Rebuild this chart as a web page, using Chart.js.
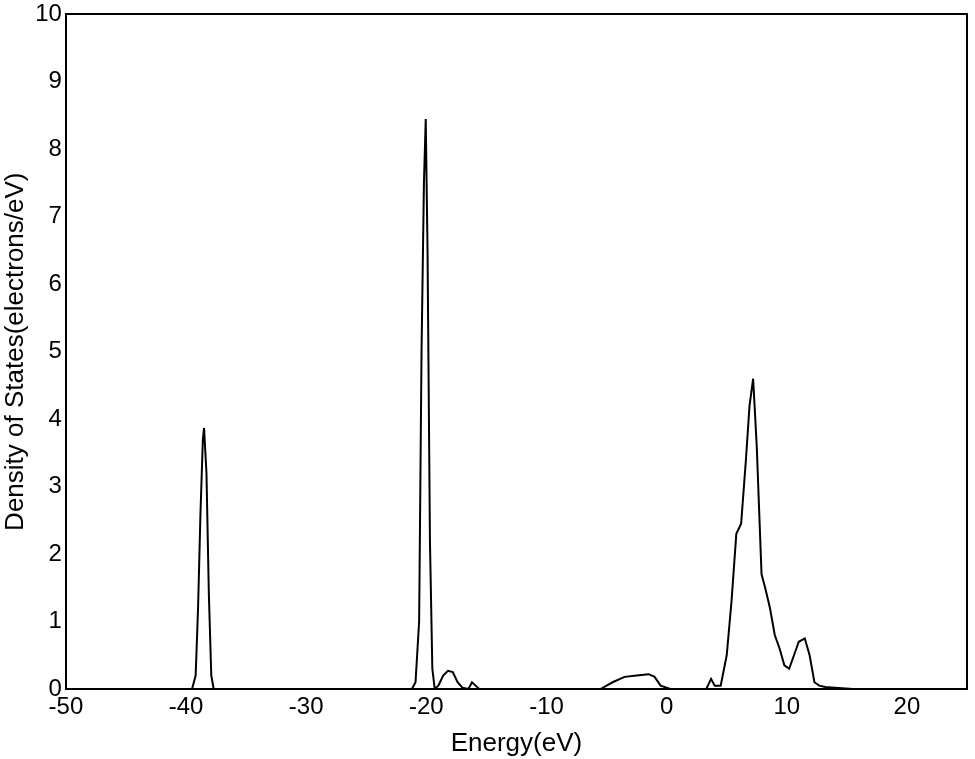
<!DOCTYPE html>
<html><head><script src="https://cdn.jsdelivr.net/npm/chart.js@4"></script>
<style>body{margin:0;background:#fff}#w{width:975px;height:759px}</style></head>
<body><div id="w"><canvas id="c"></canvas></div>
<script>
const energy = [-50,-39.5,-39.2,-39.0,-38.8,-38.6,-38.5,-38.3,-38.1,-37.9,-37.7,-37.5,-21.2,-20.9,-20.6,-20.4,-20.2,-20.05,-19.9,-19.7,-19.5,-19.3,-19.0,-18.6,-18.2,-17.8,-17.4,-17.0,-16.5,-16.2,-15.9,-15.6,-15.2,-5.5,-4.5,-3.5,-2.5,-1.5,-1.0,-0.5,0.3,3.3,3.7,4.0,4.5,5.0,5.4,5.8,6.2,6.6,6.9,7.2,7.5,7.9,8.2,8.6,9.0,9.4,9.8,10.2,10.6,11.0,11.5,11.9,12.3,12.7,13.2,14.0,15.5,25];
const dos =    [0,0,0.2,1.2,2.6,3.7,3.87,3.2,1.4,0.2,0,0,0,0.1,1.0,5.0,7.5,8.45,6.5,2.2,0.3,0,0.05,0.2,0.27,0.25,0.1,0.02,0,0.1,0.05,0,0,0,0.1,0.18,0.2,0.22,0.18,0.05,0,0,0.15,0.05,0.05,0.5,1.3,2.3,2.45,3.4,4.2,4.6,3.6,1.7,1.5,1.2,0.8,0.6,0.35,0.3,0.5,0.7,0.75,0.5,0.1,0.05,0.03,0.02,0,0];
const xTicks = [-50,-40,-30,-20,-10,0,10,20];
const pts = energy.map((e,i)=>({x:e,y:dos[i]}));
const f = {family:"'Liberation Sans', Arial, sans-serif", size:24};
new Chart(document.getElementById('c'),{
 type:'scatter',
 data:{datasets:[{data:pts,showLine:true,borderColor:'#000',borderWidth:2,pointRadius:0,tension:0}]},
 options:{responsive:true,maintainAspectRatio:false,animation:false,
  layout:{padding:{top:2,right:0,left:0,bottom:0}},
  plugins:{legend:{display:false},tooltip:{enabled:false}},
  scales:{
   x:{type:'linear',min:-50,max:25,afterBuildTicks:a=>{a.ticks=xTicks.map(v=>({value:v}));},
      grid:{display:false,tickLength:4},border:{color:'#000',width:2},
      ticks:{color:'#000',font:f,padding:0,maxRotation:0},
      title:{display:true,text:'Energy(eV)',color:'#000',font:{...f,size:26},padding:{top:6,bottom:0}}},
   x2:{type:'linear',position:'top',min:-50,max:25,grid:{display:false},border:{color:'#000',width:2},ticks:{display:false}},
   y:{min:0,max:10,ticks:{stepSize:1,color:'#000',font:f,padding:0},
      grid:{display:false,tickLength:4},border:{color:'#000',width:2},
      title:{display:true,text:'Density of States(electrons/eV)',color:'#000',font:{...f,size:26},padding:{top:0,bottom:4}}},
   y2:{position:'right',min:0,max:10,grid:{display:false},border:{color:'#000',width:2},ticks:{display:false}}
  }}
});
</script></body></html>
